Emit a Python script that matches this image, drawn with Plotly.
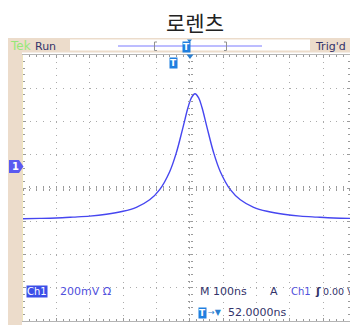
import plotly.graph_objects as go

# ---- data (time in ns from left edge, voltage in mV) ----
time_ns = [0, 50, 100, 150, 200, 250, 300, 340, 380, 410, 440, 460, 480, 495, 505, 516,
           527, 537, 552, 572, 592, 622, 652, 692, 732, 782, 832, 882, 932, 982]
voltage_mv = [-185, -183, -180, -175, -169, -158, -140, -116, -71, -10, 98, 212, 365, 484, 542, 567,
              542, 484, 365, 212, 98, -10, -71, -116, -140, -158, -169, -175, -180, -183]

title_text = "로렌츠"
ch_label = "Ch1"
scale_label = "200mV Ω"
timebase_label = "M 100ns"
trig_label = "A"
trig_src = "Ch1"
trig_level = "0.00 V"
trig_offset = "52.0000ns"

W, H = 350, 325
L, T_, B = 23, 55, 4
PW, PH = W - L, H - T_ - B  # 327 x 266


def fx(x):
    return (x - L) / PW


def fy(y):
    return (H - B - y) / PH


BEIGE = "#ecdccb"
NAVY = "#33336a"
BLUE = "#5050dc"
GRID = "#ababab"

fig = go.Figure()
fig.add_trace(go.Scatter(x=time_ns, y=voltage_mv, mode="lines",
                         line=dict(color="#4646f0", width=1.4, shape="spline"),
                         showlegend=False, hoverinfo="skip"))
# helper traces so the centre-cross axes get drawn
for xa, ya in [("x2", "y"), ("x3", "y"), ("x", "y2"), ("x", "y3")]:
    fig.add_trace(go.Scatter(x=[None], y=[None], xaxis=xa, yaxis=ya, showlegend=False, hoverinfo="skip"))

XR = [0, 981]
YR = [-800, 800]
common = dict(showticklabels=False, zeroline=False)
fig.update_layout(
    width=W, height=H,
    margin=dict(l=L, r=0, t=T_, b=B, autoexpand=False),
    paper_bgcolor="white", plot_bgcolor="white",
    xaxis=dict(range=XR, dtick=100, tick0=0, showgrid=True, gridcolor=GRID, gridwidth=1,
               griddash="1px,5.67px", showline=True, linecolor="#b4b4b4", linewidth=1,
               mirror="ticks", ticks="inside", ticklen=3, tickcolor="#9a9a9a",
               minor=dict(dtick=20, ticks="inside", ticklen=2, tickcolor="#9a9a9a", showgrid=False),
               **common),
    yaxis=dict(range=YR, dtick=200, tick0=0, showgrid=True, gridcolor=GRID, gridwidth=1,
               griddash="1px,5.67px", showline=True, linecolor="#efe6bc", linewidth=2,
               mirror="ticks", ticks="inside", ticklen=3, tickcolor="#9a9a9a",
               minor=dict(dtick=40, ticks="inside", ticklen=2, tickcolor="#9a9a9a", showgrid=False),
               **common),
    xaxis2=dict(range=XR, overlaying="x", anchor="free", position=0.5, dtick=20, tick0=0,
                ticks="inside", ticklen=2, tickcolor="#9a9a9a", showgrid=False, showline=False, **common),
    xaxis3=dict(range=XR, overlaying="x", anchor="free", position=0.5, dtick=20, tick0=0,
                ticks="outside", ticklen=2, tickcolor="#9a9a9a", showgrid=False, showline=False, **common),
    yaxis2=dict(range=YR, overlaying="y", anchor="free", position=500 / 981, dtick=40, tick0=0,
                ticks="inside", ticklen=2, tickcolor="#9a9a9a", showgrid=False, showline=False, **common),
    yaxis3=dict(range=YR, overlaying="y", anchor="free", position=500 / 981, dtick=40, tick0=0,
                ticks="outside", ticklen=2, tickcolor="#9a9a9a", showgrid=False, showline=False, **common),
)

shapes = []
def rect(x0, y0, x1, y1, color, line=None):
    shapes.append(dict(type="rect", xref="paper", yref="paper", x0=fx(x0), x1=fx(x1),
                       y0=fy(y1), y1=fy(y0), fillcolor=color,
                       line=dict(width=0) if line is None else line, layer="above"))

def path(points, color, fill=None, width=1):
    d = "M " + " L ".join(f"{fx(x):.5f},{fy(y):.5f}" for x, y in points)
    if fill:
        d += " Z"
    shapes.append(dict(type="path", xref="paper", yref="paper", path=d,
                       line=dict(color=color, width=width if not fill else 0),
                       fillcolor=fill if fill else None, layer="above"))

# left strip and top status bar
rect(8, 38, 22, 325, BEIGE)
rect(8, 38, 350, 52.5, BEIGE)
rect(70, 39.5, 310, 50.5, "white")
# record-view line and brackets
path([(118, 46), (262, 46)], "#7b7bff", width=1)
path([(157, 42), (154.5, 42), (154.5, 50.5), (157, 50.5)], "#909090", width=1)
path([(224, 42), (226.5, 42), (226.5, 50.5), (224, 50.5)], "#909090", width=1)
# small triangles
path([(187, 39.5), (192, 39.5), (189.5, 42.5)], None, fill="#2a7fd0")
path([(186.5, 54.5), (193.5, 54.5), (190, 59)], None, fill="#2a7fd0")
# channel 1 ground marker
path([(9, 160), (19, 160), (23.5, 166.5), (19, 173), (9, 173)], None, fill="#5a5af0")
fig.update_layout(shapes=shapes)

ann = []
def text(x, y, s, color, size=11, xanchor="left", bg=None, family="DejaVu Sans", weight=None):
    a = dict(xref="paper", yref="paper", x=fx(x), y=fy(y), text=s, showarrow=False,
             xanchor=xanchor, yanchor="middle",
             font=dict(family=family, size=size, color=color))
    if weight:
        a["font"]["weight"] = weight
    if bg:
        a["bgcolor"] = bg
        a["borderpad"] = 0
    ann.append(a)

text(195, 22, title_text, "#222222", size=21, xanchor="center", family="Noto Sans CJK KR")
text(8, 46, "Tek", "#96e878", size=12)
text(33, 46, "Run", NAVY, size=11)
text(313, 46, "Trig'd", NAVY, size=11)
text(186.5, 47, "T", "white", size=9, xanchor="center", bg="#1f7fe0", weight="bold")
text(173, 63.5, "T", "white", size=9, xanchor="center", bg="#1f7fe0", weight="bold")
text(15, 166.5, "1", "white", size=10, xanchor="center", weight="bold")
text(26, 291, ch_label, "white", size=10, bg="#3b4ee8")
text(58, 291, scale_label, BLUE, size=11)
text(198, 291, timebase_label, NAVY, size=11)
text(268, 291, trig_label, NAVY, size=11)
text(289, 291, trig_src, BLUE, size=10)
text(312.5, 291, "ʃ", NAVY, size=11, weight="bold")
text(321, 291, trig_level, NAVY, size=9.5)
text(198, 312.5, "T", "white", size=9, bg="#1f7fe0", weight="bold")
text(206, 312.5, "→▼", "#2a7fd0", size=8)
text(226, 312.5, trig_offset, NAVY, size=11)
fig.update_layout(annotations=ann)

fig.write_html("out.html", config={"displayModeBar": False},
               post_script="document.body.style.margin='0';document.body.style.padding='0';")
